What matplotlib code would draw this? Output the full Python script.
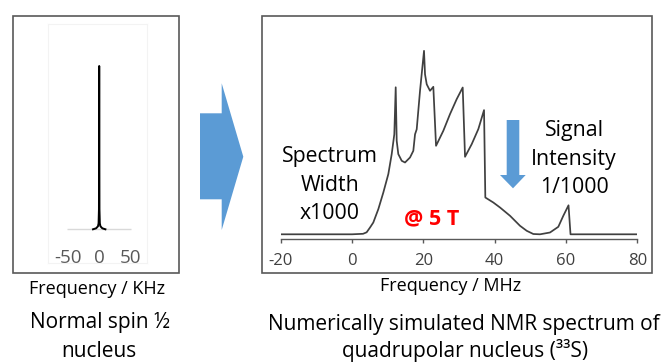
import matplotlib
matplotlib.use("Agg")
import matplotlib.pyplot as plt
from matplotlib.patches import Rectangle, Polygon

plt.rcParams['font.family'] = ['Open Sans', 'DejaVu Sans']

# ---------------- data ----------------
# Normal spin-1/2 nucleus: narrow line (kHz scale)
spin_half_freq_khz = [-10, -5, -2, -1, -0.4, 0, 0.4, 1, 2, 5, 10]
spin_half_intensity = [0, 1, 3, 6, 20, 163.3, 20, 6, 3, 1, 0]
spin_half_axis_range = [-52, 52]
left_ticks = [-50, 0, 50]

# Quadrupolar nucleus (33S) simulated spectrum (MHz scale)
s33_freq_mhz = [-20, 0, 3.1, 4.1, 5.05, 5.97, 7.38, 8.78, 10.18, 11.13, 11.86,
                12.25, 12.53, 12.98, 13.94, 14.86, 16.26, 17.19, 17.67, 18.14,
                19.07, 20.19, 20.47, 20.95, 21.87, 22.8, 23.56, 25.6, 27.48,
                29.36, 31.04, 31.69, 33.57, 35.42, 37.02, 37.38, 39.62, 41.5,
                44.31, 47.11, 48.99, 50.84, 52.72, 55.52, 57.85, 59.25, 60.71,
                61.27, 80]
s33_intensity = [0, 0, 0.5, 2, 6.8, 11.8, 25.2, 41.8, 60.2, 80.2, 100,
                 147, 93.5, 80.2, 73.5, 71.8, 76.8, 83.5, 100, 105,
                 143.5, 183.5, 160, 150, 143.5, 147.5, 88.5, 103.5, 120.2,
                 135.2, 146.8, 77.5, 90.2, 105.2, 124.2, 36.8, 31.8, 26.8,
                 18.5, 8.5, 3.5, 0.3, 0, 1.8, 7.5, 18.5, 29,
                 0, 0]
right_ticks = [-20, 0, 20, 40, 60, 80]

# ---------------- figure ----------------
W, H = 665, 363
fig = plt.figure(figsize=(W / 100, H / 100), dpi=100)


def fx(x):
    return x / W


def fy(y):
    return 1 - y / H


def rect(l, t, r, b):
    return [fx(l), fy(b), (r - l) / W, (b - t) / H]


def pts(seq):
    return [(fx(a), fy(b)) for a, b in seq]


# outer frames
for l, t, r, b in [(13, 16, 179, 273), (262, 16, 652, 273)]:
    fig.patches.append(Rectangle((fx(l), fy(b)), (r - l) / W, (b - t) / H,
                                 transform=fig.transFigure, fill=False,
                                 edgecolor='#595959', lw=1.2))

# ---- left panel ----
ax1 = fig.add_axes(rect(48, 24, 147, 263))
ax1.set_xlim(-82.6, 77.1)
ax1.set_ylim(-33.7, 205.3)
ax1.hlines(0, spin_half_axis_range[0], spin_half_axis_range[1],
           color='#d9d9d9', lw=1.0, zorder=1)
ax1.plot(spin_half_freq_khz, spin_half_intensity, color='black', lw=1.4,
         zorder=2)
for s in ax1.spines.values():
    s.set_color('#f3f3f3')
    s.set_linewidth(0.8)
ax1.set_xticks(left_ticks)
ax1.set_xticklabels([str(v) for v in left_ticks])
ax1.set_yticks([])
ax1.tick_params(axis='x', length=0, pad=-10.2, labelsize=13.5,
                labelcolor='#595959')

# ---- right panel ----
ax2 = fig.add_axes(rect(280.7, 20, 637.3, 239))
ax2.set_xlim(-20, 80)
ax2.set_ylim(-4.7, 214.3)
ax2.plot(s33_freq_mhz, s33_intensity, color='#404040', lw=1.25)
for k in ['top', 'left', 'right']:
    ax2.spines[k].set_visible(False)
ax2.spines['bottom'].set_color('#595959')
ax2.spines['bottom'].set_linewidth(1.0)
ax2.set_xticks(right_ticks)
ax2.set_xticklabels([str(v) for v in right_ticks])
ax2.set_yticks([])
ax2.tick_params(axis='x', direction='out', length=3, width=1.0,
                color='#595959', pad=7.0, labelsize=12,
                labelcolor='#404040')
ax2.patch.set_alpha(0)

# ---- arrows ----
fig.patches.append(Polygon(pts([(200, 113.3), (221.7, 113.3), (221.7, 83.3),
                                (243.3, 156.7), (221.7, 230), (221.7, 199.3),
                                (200, 199.3)]),
                           closed=True, transform=fig.transFigure,
                           facecolor='#5B9BD5', edgecolor='none'))
fig.patches.append(Polygon(pts([(506.7, 120), (519.3, 120), (519.3, 175),
                                (525.7, 175), (513, 188.3), (500, 175),
                                (506.7, 175)]),
                           closed=True, transform=fig.transFigure,
                           facecolor='#5B9BD5', edgecolor='none'))

# ---- texts ----
def label(x, y, s, size, **kw):
    fig.text(fx(x), fy(y), s, ha='center', va='baseline', fontsize=size, **kw)


label(97.5, 293.5, 'Frequency / KHz', 13)
label(450.3, 291, 'Frequency / MHz', 13)
label(99.5, 328.3, 'Normal spin ½', 15)
label(99, 356.7, 'nucleus', 15)
label(464, 330, 'Numerically simulated NMR spectrum of', 15)
label(465, 356.7, 'quadrupolar nucleus (³³S)', 15)

label(330, 162.3, 'Spectrum', 15.3)
label(330, 190.7, 'Width', 15.3)
label(330, 219, 'x1000', 15.3)
label(574, 135.7, 'Signal', 15.3)
label(574, 165, 'Intensity', 15.3)
label(574, 193.3, '1/1000', 15.3)
label(432, 224, '@ 5 T', 15.5, color='#FF0000', fontweight='bold')

fig.savefig('out.png', dpi=100)
